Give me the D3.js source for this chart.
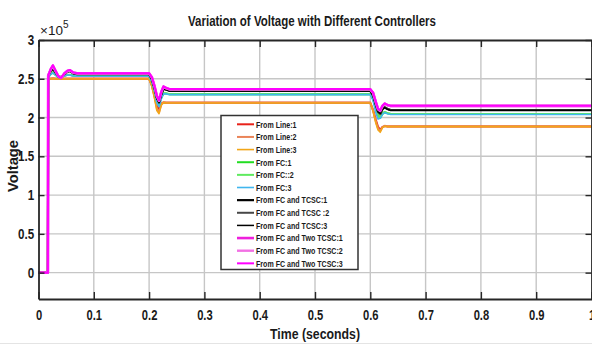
<!DOCTYPE html>
<html>
<head>
<meta charset="utf-8">
<script src="https://cdn.jsdelivr.net/npm/d3@7"></script>
<style>
  html, body { margin: 0; padding: 0; background: #fff; }
  svg { display: block; }
  text { font-family: "Liberation Sans", Arial, sans-serif; font-weight: bold; fill: #1a1a1a; }
</style>
</head>
<body>
<svg id="chart" width="592" height="345"></svg>
<script>
// Simulation time base (seconds), shared by every trace
const time = [0, 0.017, 0.0175, 0.022, 0.026, 0.031, 0.036, 0.041, 0.047, 0.052, 0.057, 0.063, 0.070,
  0.200, 0.205, 0.210, 0.214, 0.218, 0.222, 0.226, 0.231, 0.237,
  0.600, 0.605, 0.610, 0.614, 0.618, 0.622, 0.626, 0.631, 0.637, 1.000];

// Bus voltage (V) for each controller configuration
const lineV1 = [0, 0, 250000, 250000, 250500, 250000, 250000, 250000, 250000, 250000, 250000, 250000, 250000,
  250000, 242000, 228000, 215000, 210000, 218000, 219500, 219000, 219000,
  219000, 210000, 197000, 188000, 184000, 188000, 189000, 188500, 188500, 188500];
const lineV2 = [0, 0, 250300, 250300, 250600, 250300, 250300, 250300, 250300, 250300, 250300, 250300, 250300,
  250300, 241000, 226000, 212000, 207000, 217000, 219800, 219300, 219300,
  219300, 209000, 195000, 186000, 183000, 187500, 189300, 188800, 188800, 188800];
const lineV3 = [0, 0, 249800, 249800, 250200, 249800, 249800, 249800, 249800, 249800, 249800, 249800, 249800,
  249800, 240000, 224000, 209000, 205000, 216000, 219200, 218800, 218800,
  218800, 208000, 193000, 184000, 181000, 187000, 188800, 188300, 188300, 188300];

const fcV1 = [0, 0, 252000, 256000, 258000, 255000, 252000, 252000, 254000, 255000, 255000, 254000, 253500,
  253500, 247000, 235000, 222000, 217000, 226000, 231000, 231000, 230000,
  230000, 224000, 212000, 203000, 200000, 205000, 207000, 205500, 204500, 204500];
const fcV2 = [0, 0, 252200, 256500, 258500, 255200, 252200, 252000, 254200, 255200, 255200, 254200, 253700,
  253700, 246500, 234000, 221000, 216000, 225500, 231300, 231200, 230200,
  230200, 223500, 211000, 202000, 199500, 204800, 207200, 205700, 204700, 204700];
const fcV3 = [0, 0, 251800, 255500, 257500, 254800, 251800, 251600, 253700, 254700, 254700, 253700, 253200,
  253200, 246000, 233000, 219000, 214000, 224000, 230500, 230500, 229500,
  229500, 222000, 206000, 198000, 199000, 204000, 206500, 205000, 204000, 204000];

const tcscV1 = [0, 0, 254000, 260000, 263000, 258000, 253000, 252000, 256000, 259000, 260000, 257000, 256000,
  256000, 250000, 238000, 226000, 220000, 230000, 237000, 236000, 234500,
  234500, 229000, 217000, 208000, 205000, 211000, 213000, 211000, 209500, 209500];
const tcscV2 = [0, 0, 254200, 260500, 263500, 258200, 253200, 252200, 256200, 259200, 260200, 257200, 256200,
  256200, 249500, 237000, 225000, 219000, 229500, 237300, 236300, 234800,
  234800, 228500, 216000, 207000, 204500, 210500, 213300, 211300, 209800, 209800];
const tcscV3 = [0, 0, 253800, 259500, 262500, 257800, 252800, 251800, 255800, 258800, 259800, 256800, 255800,
  255800, 249000, 236500, 224500, 219500, 229000, 236800, 235800, 234300,
  234300, 228000, 216500, 207500, 205500, 210800, 212800, 210800, 209300, 209300];

const twoTcscV1 = [0, 0, 254000, 262000, 267000, 260000, 253000, 251000, 257000, 260000, 261000, 258000, 257000,
  257000, 252000, 240000, 228000, 222000, 233000, 240000, 238000, 236500,
  236500, 232000, 220000, 211000, 209000, 215000, 218000, 216000, 215000, 215000];
const twoTcscV2 = [0, 0, 254300, 261500, 266000, 259500, 253300, 251300, 256700, 259700, 260700, 257700, 256700,
  256700, 251500, 239500, 227500, 221500, 232500, 239500, 237700, 236200,
  236200, 231500, 219500, 210500, 208500, 214500, 217700, 215700, 214700, 214700];
const twoTcscV3 = [0, 0, 254100, 262500, 267500, 260200, 253100, 251100, 257200, 260300, 261200, 258100, 257100,
  257100, 252200, 240200, 228200, 222200, 233200, 240200, 238200, 236700,
  236700, 232200, 220200, 211200, 209200, 215200, 218200, 216200, 215200, 215200];

const seriesNames = ["From Line:1", "From Line:2", "From Line:3", "From FC:1", "From FC::2", "From FC:3",
  "From FC and TCSC:1", "From FC and TCSC :2", "From FC and TCSC:3",
  "From FC and Two TCSC:1", "From FC and Two TCSC:2", "From FC and Two TCSC:3"];
const seriesValues = [lineV1, lineV2, lineV3, fcV1, fcV2, fcV3, tcscV1, tcscV2, tcscV3, twoTcscV1, twoTcscV2, twoTcscV3];
const seriesColors = ["#e8221a", "#ea8458", "#f2a618", "#22dd22", "#5fea5f", "#40b6ee",
  "#000000", "#474747", "#000000", "#ee20dc", "#f270e4", "#ff00ff"];
const seriesWidths = [2, 2, 1.6, 2, 2, 1.6, 2.2, 2, 1.5, 2.6, 2.4, 2];

const xTicks = [0, 0.1, 0.2, 0.3, 0.4, 0.5, 0.6, 0.7, 0.8, 0.9, 1];
const xTickLabels = ["0", "0.1", "0.2", "0.3", "0.4", "0.5", "0.6", "0.7", "0.8", "0.9", "1"];
const yTicks = [0, 50000, 100000, 150000, 200000, 250000, 300000];
const yTickLabels = ["0", "0.5", "1", "1.5", "2", "2.5", "3"];

// condensed lettering: glyphs are narrowed horizontally
const SQ = 0.8;

const svg = d3.select("#chart");
const L = 38.5, R = 591.5, T = 40, B = 299;

const x = d3.scaleLinear().domain([0, 1]).range([L, R]);
const y = d3.scaleLinear().domain([-34000, 300000]).range([B, T]);

// light frame line along the bottom of the figure
svg.append("line").attr("x1", 0).attr("x2", 592).attr("y1", 343.5).attr("y2", 343.5)
  .attr("stroke", "#e4e4e4").attr("stroke-width", 1);

// grid
const grid = svg.append("g");
grid.selectAll("line.gx").data(xTicks.slice(1, -1)).join("line")
  .attr("x1", d => x(d)).attr("x2", d => x(d)).attr("y1", T).attr("y2", B)
  .attr("stroke", "#c6c6c6").attr("stroke-width", 1.4);
grid.selectAll("line.gy").data(yTicks.slice(0, -1)).join("line")
  .attr("x1", L).attr("x2", R).attr("y1", d => y(d)).attr("y2", d => y(d))
  .attr("stroke", "#c6c6c6").attr("stroke-width", 1.4);

// traces
const line = d3.line().x((d, i) => x(time[i])).y(d => y(d));
svg.append("g").attr("fill", "none").attr("stroke-linejoin", "round")
  .selectAll("path").data(seriesValues).join("path")
  .attr("d", d => line(d))
  .attr("stroke", (d, i) => seriesColors[i])
  .attr("stroke-width", (d, i) => seriesWidths[i]);

// axes with inward ticks on all four sides
const axStyle = g => {
  g.select(".domain").attr("stroke", "#262626").attr("stroke-width", 1.8);
  g.selectAll(".tick line").attr("stroke", "#262626").attr("stroke-width", 1.4);
};
svg.append("g").attr("transform", `translate(0,${B})`)
  .call(d3.axisBottom(x).tickValues(xTicks).tickSize(-7).tickSizeOuter(0).tickPadding(11)
    .tickFormat((d, i) => xTickLabels[i]))
  .call(axStyle)
  .call(g => g.selectAll("text").attr("font-size", 14).attr("fill", "#1a1a1a")
    .attr("transform", `scale(${SQ},1)`));
svg.append("g").attr("transform", `translate(0,${T})`)
  .call(d3.axisTop(x).tickValues(xTicks).tickSize(-7).tickSizeOuter(0).tickFormat(""))
  .call(axStyle);
svg.append("g").attr("transform", `translate(${L},0)`)
  .call(d3.axisLeft(y).tickValues(yTicks).tickSize(-6).tickSizeOuter(0)
    .tickFormat((d, i) => yTickLabels[i]))
  .call(axStyle)
  .call(g => g.selectAll("text").attr("font-size", 14.5).attr("fill", "#1a1a1a")
    .attr("x", -4.3 / SQ).attr("transform", `scale(${SQ},1)`));
svg.append("g").attr("transform", `translate(${R},0)`)
  .call(d3.axisRight(y).tickValues(yTicks).tickSize(-6).tickSizeOuter(0).tickFormat(""))
  .call(axStyle);
svg.selectAll(".tick text").attr("font-family", null).attr("font-weight", "bold");

// exponent marker
const ex = svg.append("text").attr("x", 40).attr("y", 35)
  .style("font-weight", "normal").attr("font-size", 13.5).attr("fill", "#262626");
ex.append("tspan").text("×10");
ex.append("tspan").attr("font-size", 10).attr("dy", -7).text("5");

// title and axis labels
svg.append("text").attr("x", 312).attr("y", 26).attr("text-anchor", "middle")
  .attr("font-size", 14).attr("textLength", 248).attr("lengthAdjust", "spacingAndGlyphs")
  .text("Variation of Voltage with Different Controllers");
svg.append("text").attr("x", 315).attr("y", 339).attr("text-anchor", "middle")
  .attr("font-size", 15).attr("textLength", 90).attr("lengthAdjust", "spacingAndGlyphs")
  .text("Time (seconds)");
svg.append("text").attr("transform", "translate(17.5,166) rotate(-90)").attr("text-anchor", "middle")
  .attr("font-size", 15.5).attr("textLength", 52).attr("lengthAdjust", "spacingAndGlyphs")
  .text("Voltage");

// legend
const lg = svg.append("g");
lg.append("rect").attr("x", 221).attr("y", 115.5).attr("width", 137).attr("height", 154)
  .attr("fill", "#fff").attr("stroke", "#333").attr("stroke-width", 1.5);
const rows = lg.selectAll("g.row").data(seriesNames).join("g")
  .attr("transform", (d, i) => `translate(0,${124.3 + i * 12.64})`);
rows.append("line").attr("x1", 237).attr("x2", 254).attr("y1", 0).attr("y2", 0)
  .attr("stroke", (d, i) => seriesColors[i]).attr("stroke-width", (d, i) => seriesWidths[i]);
rows.append("text").attr("transform", "translate(256,3.3) scale(0.77,1)")
  .attr("font-size", 9.2).text(d => d);
</script>
</body>
</html>
